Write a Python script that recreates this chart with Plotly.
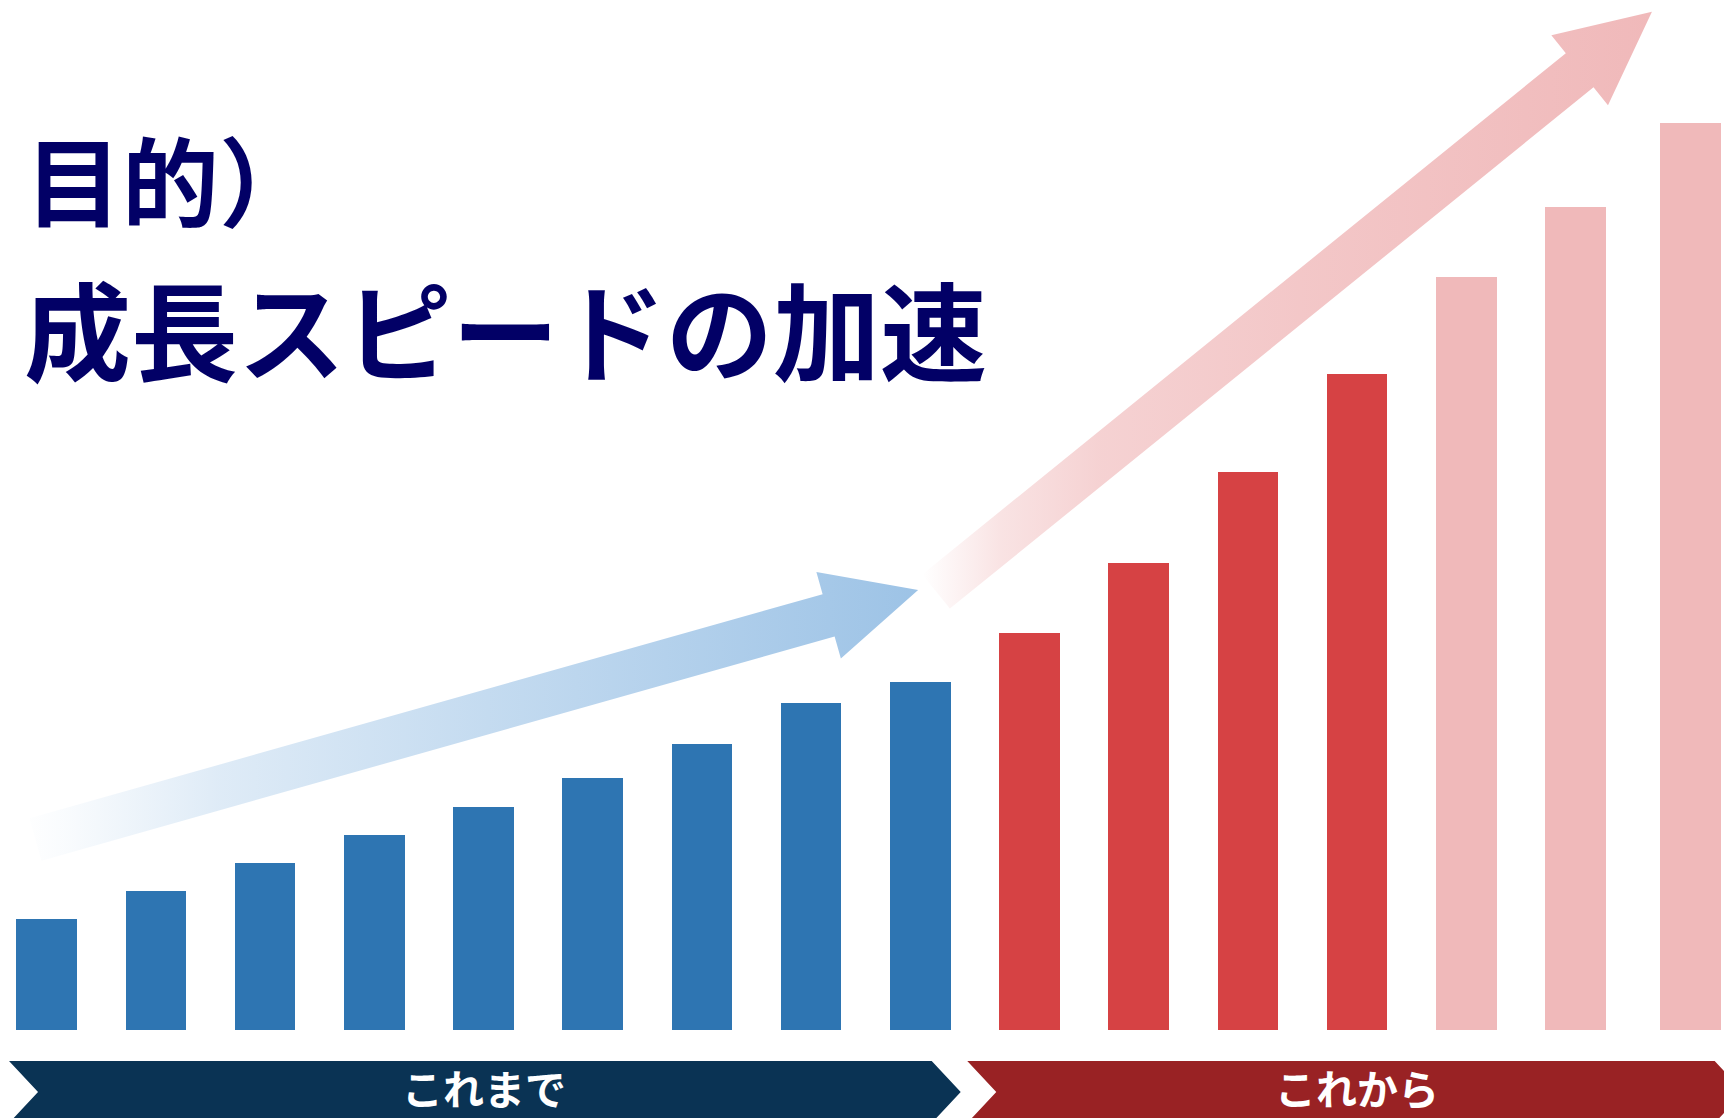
import plotly.graph_objects as go

# ---------------- data ----------------
periods = ["これまで", "これから"]
period_first = [0, 9]
period_last = [8, 15]
bar_index = list(range(16))
bar_values = [11.1, 13.9, 16.7, 19.5, 22.3, 25.2, 28.6, 32.7, 34.8,
              39.7, 46.7, 55.8, 65.6, 75.3, 82.3, 90.7]
bar_phase = ["past"] * 9 + ["now"] * 4 + ["future"] * 3
title_lines = ["目的）", "成長スピードの加速"]

# ---------------- style ----------------
W, H = 1724, 1118
X0PX, XSTEP = 46.7, 109.2      # pixel of category 0, pixels per category
YBASE, YSTEP = 1030.0, 10.0     # pixel of value 0, pixels per unit
phase_color = {"past": "#2E75B2", "now": "#D64244", "future": "#F0B9BA"}
BAR_W = 0.556
bar_shift = [0.0] * 15 + [0.055]
band_color = ["#0A3354", "#992224"]
band_left_off = [-0.345, -0.57]
band_tip_off = [0.37, 0.54]
NOTCH = 29 / XSTEP
BAND_TOP, BAND_MID, BAND_BOT = -3.1, -6.2, -9.3
BAND_TEXT_Y = -5.7
FONT = "Noto Sans CJK JP"
TITLE_COLOR = "#020066"

xr = [-X0PX / XSTEP, (W - X0PX) / XSTEP]
yr = [-(H - YBASE) / YSTEP, YBASE / YSTEP]

fig = go.Figure()


def to_px(x, y):
    return X0PX + x * XSTEP, YBASE - y * YSTEP


def to_data(px, py):
    return (px - X0PX) / XSTEP, (YBASE - py) / YSTEP


def arrow_poly(tail, tip, shaft_w=44, head_w=90, head_len=93):
    tx, ty = to_px(*tail)
    hx, hy = to_px(*tip)
    dx, dy = hx - tx, hy - ty
    L = (dx * dx + dy * dy) ** 0.5
    ux, uy = dx / L, dy / L
    nx, ny = -uy, ux
    bx, by = hx - ux * head_len, hy - uy * head_len
    s, h = shaft_w / 2, head_w / 2
    pts = [(tx + nx * s, ty + ny * s), (bx + nx * s, by + ny * s),
           (bx + nx * h, by + ny * h), (hx, hy),
           (bx - nx * h, by - ny * h), (bx - nx * s, by - ny * s),
           (tx - nx * s, ty - ny * s), (tx + nx * s, ty + ny * s)]
    d = [to_data(px, py) for px, py in pts]
    return [p[0] for p in d], [p[1] for p in d]


def fade_scale(rgb, stops):
    r, g, b = rgb
    return [[t, f"rgba({r},{g},{b},{a})"] for t, a in stops]


# gradient arrows (decoration, anchored in data coordinates)
arrows = [
    dict(tail=(-0.103, 19.05), tip=(7.98, 44.0), rgb=(157, 195, 230),
         g0=-0.245, g1=7.98,
         stops=[(0, 0.0), (0.05, 0.06), (0.22, 0.33), (0.52, 0.6), (0.76, 0.8), (1, 1.0)]),
    dict(tail=(8.144, 43.85), tip=(14.70, 101.83), rgb=(240, 185, 186),
         g0=8.02, g1=14.70,
         stops=[(0, 0.0), (0.107, 0.4), (0.244, 0.65), (0.52, 0.8), (1, 1.0)]),
]
for a in arrows:
    ax, ay = arrow_poly(a["tail"], a["tip"])
    fig.add_trace(go.Scatter(
        x=ax, y=ay, mode="lines", line=dict(width=0), fill="toself",
        fillgradient=dict(type="horizontal", start=a["g0"], stop=a["g1"],
                          colorscale=fade_scale(a["rgb"], a["stops"])),
        hoverinfo="skip", showlegend=False))

# bars
fig.add_trace(go.Bar(
    x=bar_index, y=bar_values, width=[BAR_W] * len(bar_index),
    offset=[-BAR_W / 2 + s for s in bar_shift],
    marker=dict(color=[phase_color[p] for p in bar_phase], line=dict(width=0)),
    hoverinfo="skip", showlegend=False))

# period bands (chevrons)
for i, name in enumerate(periods):
    left = period_first[i] + band_left_off[i]
    tip = period_last[i] + band_tip_off[i]
    xs = [left, tip - NOTCH, tip, tip - NOTCH, left, left + NOTCH, left]
    ys = [BAND_TOP, BAND_TOP, BAND_MID, BAND_BOT, BAND_BOT, BAND_MID, BAND_TOP]
    fig.add_trace(go.Scatter(x=xs, y=ys, mode="lines", line=dict(width=0),
                             fill="toself", fillcolor=band_color[i],
                             hoverinfo="skip", showlegend=False))
    fig.add_annotation(x=(period_first[i] + period_last[i]) / 2, y=BAND_TEXT_Y,
                       xref="x", yref="y", text=name, showarrow=False,
                       font=dict(family=FONT, size=41, color="white", weight="bold"),
                       xanchor="center", yanchor="middle")

# title
fig.add_annotation(x=23 / W, y=1 - 177 / H, xref="paper", yref="paper",
                   text=title_lines[0], showarrow=False, xanchor="left", yanchor="middle",
                   font=dict(family=FONT, size=97, color=TITLE_COLOR, weight="bold"))
fig.add_annotation(x=22 / W, y=1 - 326 / H, xref="paper", yref="paper",
                   text=title_lines[1], showarrow=False, xanchor="left", yanchor="middle",
                   font=dict(family=FONT, size=107, color=TITLE_COLOR, weight="bold"))

fig.update_layout(
    width=W, height=H, margin=dict(l=0, r=0, t=0, b=0),
    paper_bgcolor="white", plot_bgcolor="white", bargap=0,
    xaxis=dict(range=xr, visible=False, domain=[0, 1], fixedrange=True),
    yaxis=dict(range=yr, visible=False, domain=[0, 1], fixedrange=True),
)

fig.write_html("out.html", config={"displayModeBar": False},
               post_script="document.body.style.margin='0px';document.body.style.overflow='hidden';")
